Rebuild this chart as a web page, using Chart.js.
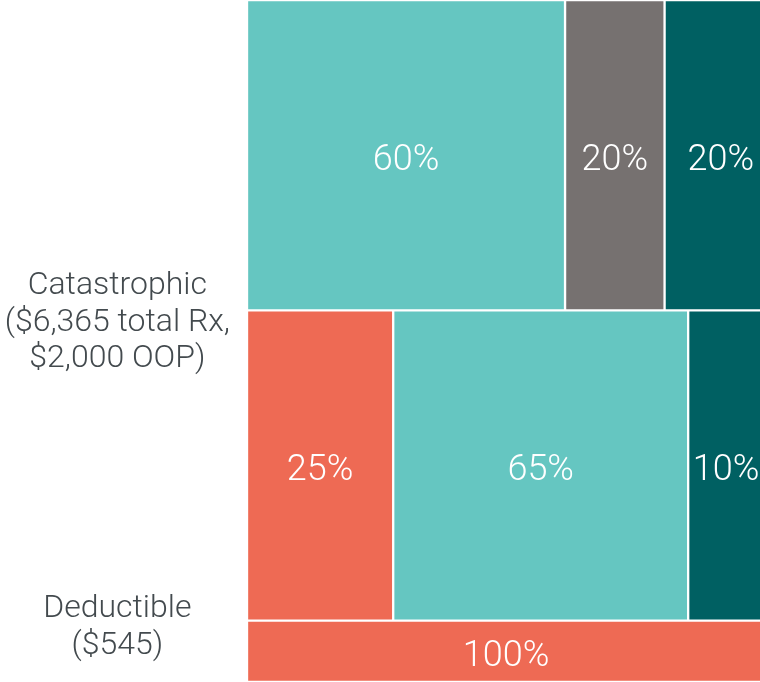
<!DOCTYPE html>
<html>
<head>
<meta charset="utf-8">
<script src="https://cdn.jsdelivr.net/npm/chart.js@4/dist/chart.umd.min.js"></script>
<style>
  html, body { margin: 0; padding: 0; background: #fff; }
  canvas { display: block; }
</style>
</head>
<body>
<canvas id="phaseChart" width="760" height="682"></canvas>
<script>
// Band heights (top to bottom) on a 0-100 vertical axis
const rowHeights = [45.5, 45.5, 9];

// Segment widths per row, left to right (x axis 0-100, outer ones run past the edge)
const catastrophicWidths = [62.0, 19.4, 21.9];
const initialWidths = [28.5, 57.5, 14.8];
const deductibleWidths = [101];

// Text shown inside each segment
const catastrophicShares = ['60%', '20%', '20%'];
const initialShares = ['25%', '65%', '10%'];
const deductibleShares = ['100%'];

// Axis labels and where they sit on the vertical axis
const axisLabels = [
    ['Catastrophic', '($6,365 total Rx,', '$2,000 OOP)'],
    ['Deductible', '($545)']
];
const axisLabelValues = [47.3, 92.0];

const TEAL = '#65c6c1';
const GREY = '#767170';
const DARK_TEAL = '#006062';
const CORAL = '#ee6a54';

// band start/end on the y axis
const bands = [];
let yAcc = 0;
rowHeights.forEach(h => {
    bands.push([yAcc, yAcc + h]);
    yAcc += h;
});

function floatSegments(widths, band) {
    const center = (band[0] + band[1]) / 2;
    let acc = 0;
    return widths.map(w => {
        const seg = { x: [acc, acc + w], y: center };
        acc += w;
        return seg;
    });
}

function rowDataset(widths, shares, colors, rowIndex) {
    return {
        data: floatSegments(widths, bands[rowIndex]),
        shares: shares,
        backgroundColor: colors,
        borderColor: '#ffffff',
        borderWidth: 1.5,
        borderSkipped: false,
        grouped: false,
        barThickness: function(ctx) {
            const ys = ctx.chart.scales.y;
            const band = bands[ctx.datasetIndex];
            return Math.abs(ys.getPixelForValue(band[1]) - ys.getPixelForValue(band[0]));
        }
    };
}

// draws the percentage inside each bar, digits centred on the bar
const shareText = {
    id: 'shareText',
    afterDatasetsDraw(chart) {
        const ctx = chart.ctx;
        const size = 36;
        ctx.save();
        ctx.font = '300 ' + size + 'px Roboto';
        ctx.fillStyle = '#ffffff';
        ctx.textAlign = 'center';
        ctx.textBaseline = 'alphabetic';
        chart.data.datasets.forEach((ds, i) => {
            chart.getDatasetMeta(i).data.forEach((bar, j) => {
                const p = bar.getProps(['x', 'y', 'base'], true);
                ctx.fillText(ds.shares[j], (p.x + p.base) / 2, p.y + size * 0.4);
            });
        });
        ctx.restore();
    }
};

new Chart(document.getElementById('phaseChart'), {
    type: 'bar',
    data: {
        datasets: [
            rowDataset(catastrophicWidths, catastrophicShares, [TEAL, GREY, DARK_TEAL], 0),
            rowDataset(initialWidths, initialShares, [CORAL, TEAL, DARK_TEAL], 1),
            rowDataset(deductibleWidths, deductibleShares, [CORAL], 2)
        ]
    },
    options: {
        indexAxis: 'y',
        responsive: false,
        animation: false,
        layout: { padding: 0, autoPadding: false },
        plugins: {
            legend: { display: false },
            tooltip: { enabled: false }
        },
        scales: {
            x: {
                type: 'linear',
                display: false,
                min: 0,
                max: 100
            },
            y: {
                type: 'linear',
                reverse: true,
                offset: false,
                min: 0,
                max: 100,
                grid: { display: false, drawTicks: false },
                border: { display: false },
                afterBuildTicks: function(scale) {
                    scale.ticks = axisLabelValues.map(v => ({ value: v }));
                },
                afterFit: function(scale) {
                    // labels sit inside the band area, so no extra room above/below
                    scale.width = 247;
                    scale.paddingTop = 0;
                    scale.paddingBottom = 0;
                },
                ticks: {
                    autoSkip: false,
                    crossAlign: 'center',
                    padding: 17,
                    color: '#434a4e',
                    font: { family: 'Roboto', weight: 300, size: 32, lineHeight: 1.15 },
                    callback: function(value, index) {
                        return axisLabels[index];
                    }
                }
            }
        }
    },
    plugins: [shareText]
});
</script>
</body>
</html>
